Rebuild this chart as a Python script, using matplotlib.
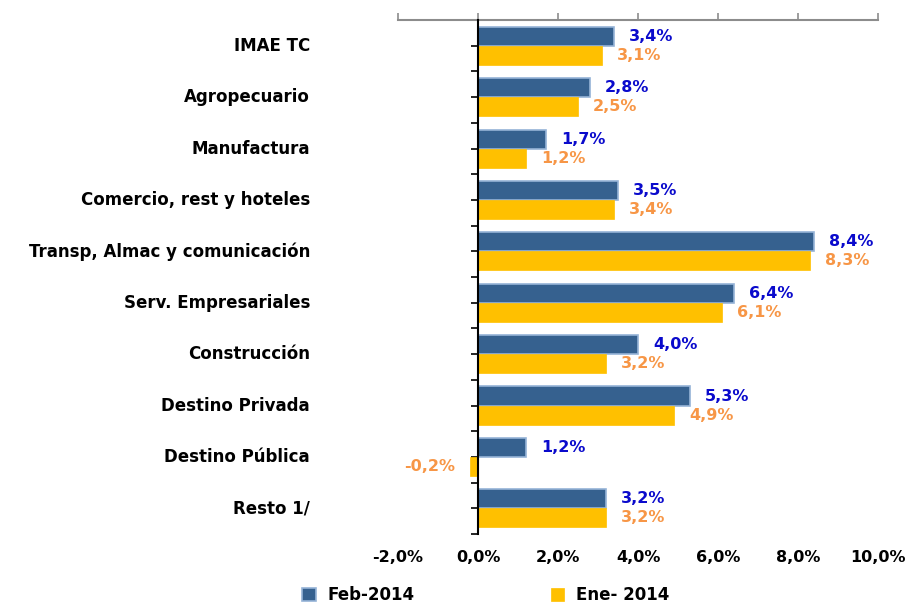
import numpy as np
import matplotlib.pyplot as plt
from matplotlib.ticker import FuncFormatter

categorias = ['IMAE TC', 'Agropecuario', 'Manufactura', 'Comercio, rest y hoteles',
              'Transp, Almac y comunicación', 'Serv. Empresariales', 'Construcción',
              'Destino Privada', 'Destino Pública', 'Resto 1/']
feb_2014 = [3.4, 2.8, 1.7, 3.5, 8.4, 6.4, 4.0, 5.3, 1.2, 3.2]
ene_2014 = [3.1, 2.5, 1.2, 3.4, 8.3, 6.1, 3.2, 4.9, -0.2, 3.2]
xticks = [-2, 0, 2, 4, 6, 8, 10]

def pct(v):
    return f'{v:.1f}%'.replace('.', ',')

fig = plt.figure(figsize=(9.10, 6.03), dpi=100)
ax = fig.add_axes([0.4374, 0.1144, 0.5274, 0.8524])

y = np.arange(len(categorias))
h = 0.37
b1 = ax.barh(y - h / 2, feb_2014, height=h, color='#36618F', edgecolor='#95B3D7',
             linewidth=1.2, label='Feb-2014', zorder=2)
b2 = ax.barh(y + h / 2, ene_2014, height=h, color='#FFC000', edgecolor='#FFC000',
             linewidth=0.5, label='Ene- 2014', zorder=2)

for yi, v in zip(y, feb_2014):
    off = 0.38 if v >= 0 else -0.38
    ax.text(v + off, yi - h / 2, pct(v), color='#0A0ACC', fontsize=11.5, fontweight='bold',
            va='center', ha='left' if v >= 0 else 'right')
for yi, v in zip(y, ene_2014):
    off = 0.38 if v >= 0 else -0.38
    ax.text(v + off, yi + h / 2, pct(v), color='#F79646', fontsize=11.5, fontweight='bold',
            va='center', ha='left' if v >= 0 else 'right')

for yi, c in zip(y, categorias):
    ax.text(-0.1833, yi, c, transform=ax.get_yaxis_transform(), ha='right', va='center',
            fontsize=12, fontweight='bold', color='black')

ax.set_xlim(-2, 10)
ax.set_ylim(9.5, -0.5)
ax.set_xticks(xticks)
ax.xaxis.set_major_formatter(FuncFormatter(lambda v, p: pct(v)))
ax.tick_params(axis='x', top=True, bottom=False, labeltop=False, labelbottom=True,
               direction='out', length=5, width=1.2, color='#8C8C8C', pad=6.5,
               labelsize=11.5)
for lab in ax.get_xticklabels():
    lab.set_fontweight('bold')

ax.set_yticks(np.arange(-0.5, 10, 0.5))
ax.set_yticklabels([])
ax.tick_params(axis='y', direction='out', length=5, width=1.2, color='black')

ax.spines['left'].set_position(('data', 0))
ax.spines['left'].set_linewidth(1.5)
ax.spines['left'].set_zorder(3)
ax.spines['top'].set_color('#8C8C8C')
ax.spines['top'].set_linewidth(1.5)
ax.spines['right'].set_visible(False)
ax.spines['bottom'].set_visible(False)

fig.legend(handles=[b1, b2], loc='center', bbox_to_anchor=(0.534, 0.013), ncol=2,
           frameon=False, prop={'weight': 'bold', 'size': 12},
           handlelength=0.8, handleheight=0.8, handletextpad=0.7, columnspacing=8.2)

fig.savefig('out.png', dpi=100)
